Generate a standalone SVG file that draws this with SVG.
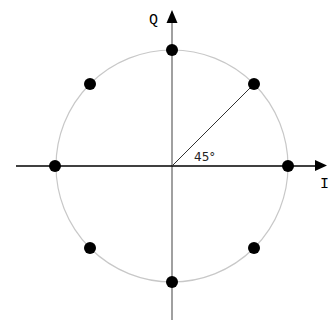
<svg xmlns="http://www.w3.org/2000/svg" width="336" height="320" viewBox="0 0 336 320">
<style>
.pt{fill:#000}
.lbl{font-family:"Liberation Mono","DejaVu Sans Mono",monospace;font-size:15px;fill:#000}
.ang{font-family:"DejaVu Sans","Liberation Sans",sans-serif;font-size:12px;fill:#222}
</style>
<rect width="336" height="320" fill="#fff"/>
<g id="circle"><circle cx="172" cy="166" r="116" fill="none" stroke="#c8c8c8" stroke-width="1.2"/></g>
<g id="connectors">
<line x1="172" y1="20" x2="172" y2="320" stroke="#808080" stroke-width="1.5"/>
<polygon points="172,10 166.5,23 177.5,23" fill="#000"/>
<line x1="16" y1="166" x2="318" y2="166" stroke="#000" stroke-width="1.3"/>
<polygon points="327,165.5 315,160 315,171" fill="#000"/>
<line x1="172" y1="166" x2="254" y2="84" stroke="#333" stroke-width="1"/>
</g>
<g id="points">
<circle class="pt" cx="172" cy="50" r="6"/>
<circle class="pt" cx="254" cy="84" r="6"/>
<circle class="pt" cx="288" cy="166" r="6"/>
<circle class="pt" cx="254" cy="248" r="6"/>
<circle class="pt" cx="172" cy="282" r="6"/>
<circle class="pt" cx="90" cy="248" r="6"/>
<circle class="pt" cx="55" cy="166" r="6"/>
<circle class="pt" cx="90" cy="84" r="6"/>
</g>
<g id="labels">
<text class="lbl" x="149" y="24">Q</text>
<text class="lbl" x="320" y="188">I</text>
<text class="ang" x="194" y="161">45°</text>
</g>
</svg>
